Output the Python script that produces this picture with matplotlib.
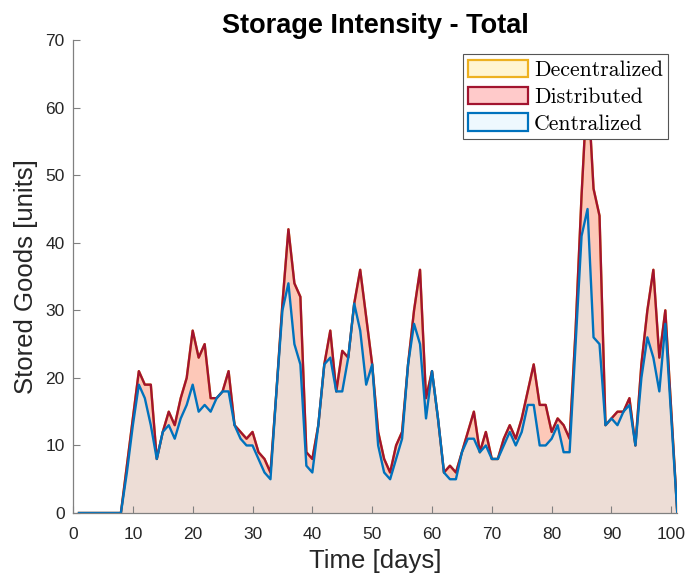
import numpy as np
import matplotlib
matplotlib.use("Agg")
import matplotlib.pyplot as plt
from matplotlib.patches import Patch

days = list(range(1, 102))

distributed = [0, 0, 0, 0, 0, 0, 0, 0, 7, 14,
               21, 19, 19, 8, 12, 15, 13, 17, 20, 27,
               23, 25, 17, 17, 18, 21, 13, 12, 11, 12,
               9, 8, 6, 18, 31, 42, 34, 32, 9, 8,
               13, 22, 27, 18, 24, 23, 31, 36, 29, 22,
               12, 8, 6, 10, 12, 22, 30, 36, 17, 21,
               14, 6, 7, 6, 9, 12, 15, 9, 12, 8,
               8, 11, 13, 11, 14, 18, 22, 16, 16, 12,
               14, 13, 11, 27, 47, 64, 48, 44, 13, 14,
               15, 15, 17, 10, 22, 30, 36, 23, 30, 15,
               0]

centralized = [0, 0, 0, 0, 0, 0, 0, 0, 6, 13,
               19, 17, 13, 8, 12, 13, 11, 14, 16, 19,
               15, 16, 15, 17, 18, 18, 13, 11, 10, 10,
               8, 6, 5, 18, 30, 34, 25, 22, 7, 6,
               13, 22, 23, 18, 18, 23, 31, 27, 19, 22,
               10, 6, 5, 8, 11, 22, 28, 25, 14, 21,
               14, 6, 5, 5, 9, 11, 11, 9, 10, 8,
               8, 10, 12, 10, 12, 16, 16, 10, 10, 11,
               13, 9, 9, 25, 41, 45, 26, 25, 13, 14,
               13, 15, 16, 10, 20, 26, 23, 18, 28, 14,
               0]

# decentralized sits exactly under the distributed curve
decentralized = list(distributed)

series = [
    ("Decentralized", decentralized, "#EDB120", "#FDF0C8", "#FFF5D1"),
    ("Distributed", distributed, "#A2142F", "#FDC8B8", "#FFCACA"),
    ("Centralized", centralized, "#0072BD", "#EDDDD6", "#EEF8FE"),
]

fig = plt.figure(figsize=(6.89, 5.81), dpi=100)
ax = fig.add_axes([0.106, 0.117, 0.877, 0.814])

handles = []
for name, vals, line_c, fill_c, leg_c in series:
    ax.fill_between(days, 0, vals, color=fill_c, lw=0)
    ax.plot(days, vals, color=line_c, lw=1.7)
    handles.append(Patch(facecolor=leg_c, edgecolor=line_c, lw=1.6, label=name))

ax.set_xlim(0, 101)
ax.set_ylim(0, 70)
ax.set_xticks(range(0, 101, 10))
ax.set_yticks(range(0, 71, 10))

for side in ["top", "right"]:
    ax.spines[side].set_visible(False)
for side in ["left", "bottom"]:
    ax.spines[side].set_color("#808080")
    ax.spines[side].set_linewidth(0.9)
ax.tick_params(direction="in", length=5, width=0.8, color="#808080",
               labelsize=12.5, labelcolor="#262626")
ax.tick_params(axis="x", pad=10)
ax.tick_params(axis="y", pad=6)
for lab in ax.get_xticklabels() + ax.get_yticklabels():
    lab.set_fontfamily("Liberation Sans")

ax.set_title("Storage Intensity - Total", fontfamily="Liberation Sans",
             fontweight="bold", fontsize=19.5, pad=5)
ax.set_xlabel("Time [days]", fontfamily="Liberation Sans", fontsize=18.5,
              color="#262626", labelpad=5)
ax.set_ylabel("Stored Goods [units]", fontfamily="Liberation Sans",
              fontsize=18.5, color="#262626", labelpad=5)

leg = ax.legend(handles=handles, loc="upper right", bbox_to_anchor=(0.985, 0.970),
                borderaxespad=0, fancybox=False, framealpha=1,
                edgecolor="#555555", handlelength=2.75, handleheight=0.85,
                handletextpad=0.25, borderpad=0.25, labelspacing=0.3,
                prop={"family": "cmr10", "size": 15.7})
leg.get_frame().set_linewidth(0.8)

fig.savefig("out.png", dpi=100)
